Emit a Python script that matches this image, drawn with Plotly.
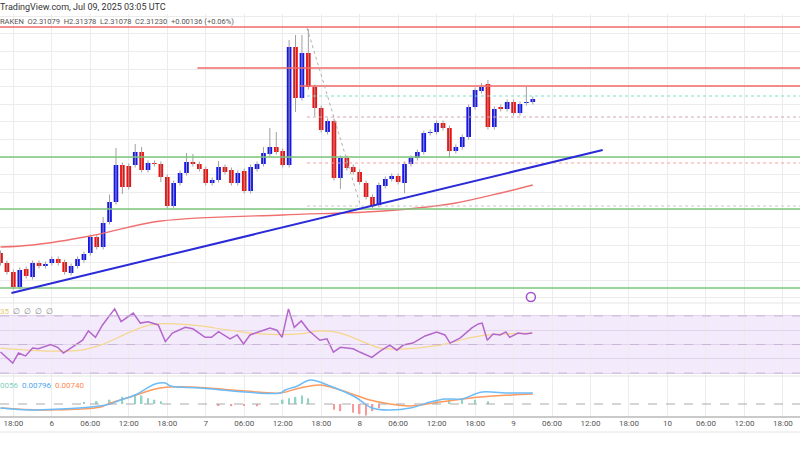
import plotly.graph_objects as go
from plotly.subplots import make_subplots
import pandas as pd

# ---------------- data ----------------
start = pd.Timestamp("2025-07-05 16:00")
opens = [2.2994,2.2974,2.2956,2.2926,2.2962,2.2946,2.2974,2.2968,2.2974,2.2982,
         2.2976,2.2954,2.2968,2.2980,2.2994,2.3026,2.3006,2.3056,2.3096,2.3170,
         2.3168,2.3170,2.3196,2.3160,2.3174,2.3172,2.3146,2.3088,2.3134,2.3154,
         2.3176,2.3172,2.3162,2.3134,2.3140,2.3166,2.3160,2.3134,2.3158,2.3118,
         2.3162,2.3172,2.3192,2.3206,2.3198,2.3170,2.3406,2.3304,2.3394,2.3326,
         2.3284,2.3236,2.3258,2.3144,2.3184,2.3166,2.3156,2.3134,2.3106,2.3090,
         2.3128,2.3142,2.3148,2.3134,2.3172,2.3184,2.3196,2.3234,2.3236,2.3254,
         2.3244,2.3198,2.3206,2.3226,2.3286,2.3318,2.3332,2.3246,2.3286,2.3282,
         2.3296,2.3274,2.3294,2.3296]
closes = [2.2974,2.2956,2.2926,2.2960,2.2948,2.2974,2.2968,2.2972,2.2982,2.2974,
          2.2956,2.2968,2.2982,2.2992,2.3026,2.3006,2.3054,2.3096,2.3170,2.3126,
          2.3126,2.3196,2.3160,2.3174,2.3172,2.3146,2.3088,2.3134,2.3154,2.3176,
          2.3172,2.3162,2.3134,2.3140,2.3166,2.3156,2.3134,2.3154,2.3118,2.3166,
          2.3172,2.3194,2.3206,2.3196,2.3170,2.3406,2.3304,2.3394,2.3326,2.3284,
          2.3240,2.3258,2.3144,2.3184,2.3164,2.3156,2.3136,2.3106,2.3088,2.3130,
          2.3142,2.3148,2.3136,2.3172,2.3184,2.3196,2.3234,2.3236,2.3254,2.3244,
          2.3198,2.3206,2.3226,2.3286,2.3320,2.3326,2.3246,2.3282,2.3282,2.3296,
          2.3274,2.3292,2.3296,2.3302]
up_wick = [0.0005]*84
for k, v in {16:0.0012,17:0.0015,18:0.0034,21:0.0016,22:0.0010,29:0.0018,30:0.0016,
             34:0.0012,41:0.0012,42:0.0038,43:0.0030,45:0.0014,46:0.0024,47:0.0036,
             48:0.0048,75:0.0008,76:0.0008,82:0.0030}.items():
    up_wick[k] = v
down_wick = [0.0005]*84
for k, v in {19:0.0014,25:0.0010,46:0.0028,49:0.0016,53:0.0022,58:0.0004,
             63:0.0020,70:0.0014}.items():
    down_wick[k] = v

ma_idx = [0, 5, 14, 25, 44, 57, 65, 71, 78, 83]
ma_val = [2.3006, 2.3010, 2.3028, 2.3058, 2.3070, 2.3076, 2.3084, 2.3094, 2.3114, 2.3130]

rsi_idx = [0,1.9,2.8,3.9,5,5.9,7.8,8.9,9.8,12.8,13.7,14.8,15.9,17.8,18.8,20.7,21.8,23,24.6,25.7,
           26.8,28.8,30,31.9,32.9,34,35.8,36.9,37.9,38.9,41,42,43.1,43.9,44.9,45.8,46.9,48,49.8,50.9,
           51.9,53,55,56,57.9,59.2,60.7,61.8,62.8,64.3,66.2,68,69.3,70.1,71.7,73.5,74.5,75.1,75.9,76.8,
           77.9,78.8,79.4,80.7,81.8,82.9]
rsi_val = [44.7,37,44,42,47.5,47,50,48,44,53,59.5,55,63.7,75,66,72,65,66,63.7,52,
           58,62,61,55,55,59,54,56.7,50.4,56.7,60,61.6,60,55,75,62,66.5,60,53,54,
           44.7,48,47,44.7,41,45.4,49.6,46,49.6,51,56,58.8,56.7,51,54.6,61.6,64.4,65,53,57.4,
           56.7,58.8,55,58,57.4,58]
rsig_idx = [0,7.8,12.5,15.6,23.4,29.6,35.8,40.5,46.7,49.8,53,59.2,62.3,68.5,74.8,83]
rsig_val = [47.5,45.4,46,49.6,63.7,63.7,60,57.4,57.4,59.5,58,47.5,46.8,49.6,56,58]

macd_idx = [0,4.7,9.3,14,17.1,18.7,21,24.1,25.7,26.5,31.2,38.2,43.6,44.4,46.3,48.3,51.4,55.3,57.9,
            60.7,63.9,67,69.3,72,74,75.1,79.4,83]
macd_val = [-0.0028,-0.0042,-0.0035,-0.0021,0,0.0028,0.0063,0.014,0.0147,0.0126,0.0112,0.0084,0.0077,
            0.0098,0.0126,0.0168,0.0126,0.0049,-0.0028,-0.0042,-0.0028,0.0014,0.0035,0.0035,0.007,0.0084,
            0.0077,0.0077]
sig_idx = [0,6.2,12.5,15.6,17.1,20.2,24.9,29.6,38.2,43.6,46.7,49.8,53,57.6,60.7,63.9,68.5,74.8,83]
sig_val = [-0.0028,-0.0042,-0.0035,-0.0021,0.0007,0.0049,0.0112,0.0119,0.0091,0.0077,0.0112,0.0133,
           0.0098,0.0028,0,-0.0014,0.0014,0.0049,0.007]
hist_idx = [13,15,17,19,21,22,23,24,25,34,36,38,40,44,45,46,47,48,52,53,55,56,57,58,59,68,70,72,74,76]
hist_val = [0.001,0.002,0.003,0.005,0.007,0.006,0.004,0.003,0.002,-0.001,-0.0015,-0.001,-0.0015,
            0.003,0.004,0.005,0.006,0.004,-0.004,-0.005,-0.006,-0.007,-0.008,-0.005,-0.003,
            0.002,0.003,0.004,0.003,0.002]

res_top = 2.3446
res_mid = 2.3364
res_low = 2.3328
sup_levels = [2.3186, 2.3082, 2.2924]
fib_levels = [(2.3308, "#7fdcc8"), (2.3266, "#c9a8b4"), (2.3174, "#f4a0a0"), (2.3088, "#c8c8c8")]
trend_pts = (1.7, 2.2914, 93.9, 2.3200)

def t(i):
    return start + pd.Timedelta(hours=i)

# ---------------- figure ----------------
fig = make_subplots(rows=3, cols=1, shared_xaxes=True, vertical_spacing=0)
BLUE, RED = "#1515ee", "#ee1111"

xs = [t(i) for i in range(84)]
base = [min(o, c) for o, c in zip(opens, closes)]
hgt = [max(abs(o - c), 0.00008) for o, c in zip(opens, closes)]
cols = [BLUE if c >= o else RED for o, c in zip(opens, closes)]

wx, wy = [], []
for i in range(84):
    wx += [xs[i], xs[i], None]
    wy += [max(opens[i], closes[i]) + up_wick[i], min(opens[i], closes[i]) - down_wick[i], None]
fig.add_trace(go.Scatter(x=wx, y=wy, mode="lines", line=dict(color="#a0a0a0", width=1)), 1, 1)
fig.add_trace(go.Bar(x=xs, y=hgt, base=base, marker=dict(color=cols, line=dict(width=0)),
                     width=0.72*3600000), 1, 1)
fig.add_trace(go.Scatter(x=[t(i) for i in ma_idx], y=ma_val, mode="lines", line_shape="spline",
                         line=dict(color="#f07070", width=1.3)), 1, 1)

fig.add_trace(go.Scatter(x=[t(i) for i in rsig_idx], y=rsig_val, mode="lines", line_shape="spline",
                         line=dict(color="#f6d68c", width=1.2)), 2, 1)
fig.add_trace(go.Scatter(x=[t(i) for i in rsi_idx], y=rsi_val, mode="lines",
                         line=dict(color="#b466cc", width=1.5)), 2, 1)

fig.add_trace(go.Bar(x=[t(i) for i in hist_idx], y=hist_val, width=0.25*3600000,
                     marker=dict(color=["#8fd4c4" if v > 0 else "#f49a9a" for v in hist_val],
                                 line=dict(width=0))), 3, 1)
fig.add_trace(go.Scatter(x=[t(i) for i in sig_idx], y=sig_val, mode="lines", line_shape="spline",
                         line=dict(color="#ff9a5e", width=1.5)), 3, 1)
fig.add_trace(go.Scatter(x=[t(i) for i in macd_idx], y=macd_val, mode="lines", line_shape="spline",
                         line=dict(color="#6cbcf8", width=1.5)), 3, 1)

fig.add_trace(go.Scatter(x=[t(82.7)], y=[2.2906], mode="markers",
                         marker=dict(symbol="circle-open", size=9, color="#a050d0", line=dict(width=1.5))), 1, 1)

x_end = pd.Timestamp("2025-07-10 20:40")
x_start = pd.Timestamp("2025-07-05 15:55")

def hl(y, x0, color, width=1.5, dash="solid", row_ref="y"):
    fig.add_shape(type="line", x0=x0, x1=x_end, y0=y, y1=y, xref="x", yref=row_ref,
                  line=dict(color=color, width=width, dash=dash))

hl(res_top, x_start, "#f06a6a")
hl(res_mid, t(30.7), "#f06a6a")
hl(res_low, t(46.7), "#f06a6a")
for lv in sup_levels:
    hl(lv, x_start, "#7cc67c")
for lv, c in fib_levels:
    hl(lv, t(47.8), c, width=1.2, dash="dot")
fig.add_shape(type="line", x0=t(47.8), y0=2.3444, x1=t(56.1), y1=2.3090, xref="x", yref="y",
              line=dict(color="#b0b0b0", width=1, dash="dot"))
fig.add_shape(type="line", x0=t(trend_pts[0]), y0=trend_pts[1], x1=t(trend_pts[2]), y1=trend_pts[3],
              xref="x", yref="y", line=dict(color="#2a2ad8", width=2))

fig.add_shape(type="rect", x0=x_start, x1=x_end, y0=30, y1=70, xref="x", yref="y2",
              fillcolor="rgba(170,110,230,0.14)", line=dict(width=0), layer="below")
for lv in (30, 50, 70):
    hl(lv, x_start, "#c9b6d6", width=1, dash="dash", row_ref="y2")
hl(0, x_start, "#aaaaaa", width=1, dash="dash", row_ref="y3")

for yp, c in ((303, "#e4e4e4"), (376, "#e4e4e4"), (417, "#b8b8b8"), (432, "#e4e4e4")):
    fig.add_shape(type="line", xref="paper", yref="paper", x0=0, x1=1, y0=1-yp/450, y1=1-yp/450,
                  line=dict(color=c, width=1.5 if yp == 417 else 1))

tickvals, ticktext = [], []
tk = pd.Timestamp("2025-07-05 18:00")
while tk <= x_end:
    tickvals.append(tk)
    ticktext.append(str(tk.day) if tk.hour == 0 else tk.strftime("%H:%M"))
    tk += pd.Timedelta(hours=6)

for ax in ("xaxis", "xaxis2", "xaxis3"):
    fig.layout[ax].update(range=[x_start, x_end], tickvals=tickvals, showgrid=True,
                          gridcolor="#ececec", gridwidth=1, zeroline=False, showline=False,
                          showticklabels=False, rangeslider=dict(visible=False))
fig.layout.xaxis3.update(showticklabels=True, ticktext=ticktext, ticks="",
                         tickfont=dict(size=8, color="#555"))

fig.update_layout(
    width=800, height=450, margin=dict(l=0, r=0, t=0, b=0),
    plot_bgcolor="white", paper_bgcolor="white", showlegend=False, barmode="overlay",
    font=dict(family="Roboto"),
    yaxis=dict(domain=[1-303/450, 1], range=[2.2894, 2.3500], tick0=2.3186, dtick=0.00352,
               showgrid=True, gridcolor="#ececec", showticklabels=False, zeroline=False),
    yaxis2=dict(domain=[1-376/450, 1-303/450], range=[27.9, 79.1], tick0=30, dtick=10,
                showgrid=True, gridcolor="#e2d4ea", showticklabels=False, zeroline=False),
    yaxis3=dict(domain=[1-417/450, 1-376/450], range=[-0.0091, 0.0196],
                showgrid=False, showticklabels=False, zeroline=False),
)
fig.update_xaxes(tickangle=0)

def ann(x, ypx, text, size, color):
    fig.add_annotation(xref="paper", yref="paper", x=x, y=1-ypx/450, text=text, showarrow=False,
                       xanchor="left", yanchor="middle", font=dict(size=size, color=color))

fig.add_shape(type="rect", xref="paper", yref="paper", x0=0, x1=1, y0=1-14/450, y1=1,
              fillcolor="white", line=dict(width=0))
ann(-0.003, 7, "TradingView.com, Jul 09, 2025 03:05 UTC", 9, "#333")
ann(-0.003, 22, "RAKEN  O2.31079  H2.31378  L2.31078  C2.31230  +0.00136 (+0.06%)", 7.5, "#555")
ann(-0.003, 311, "<span style='color:#e8c873'>35</span>  <span style='color:#888'>∅  ∅  ∅  ∅</span>", 8, "#888")
ann(-0.003, 385, "<span style='color:#7fd0bf'>0056</span>  <span style='color:#4aa8f0'>0.00796</span>  <span style='color:#ff8a50'>0.00740</span>", 8, "#888")

fig.write_html("out.html", config={"displayModeBar": False},
               post_script="document.body.style.margin='0';")
